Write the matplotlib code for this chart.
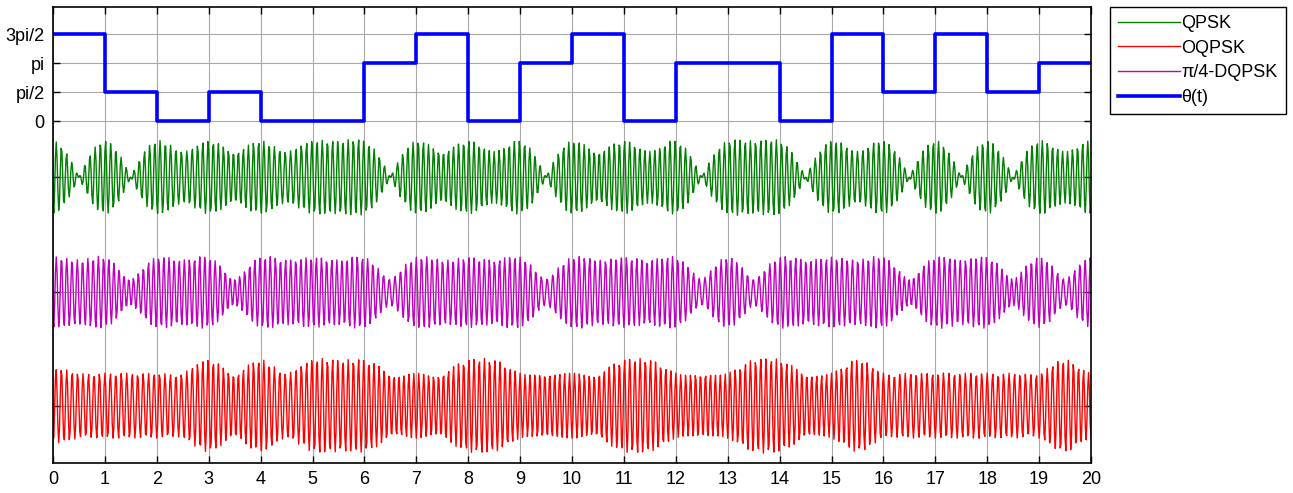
import numpy as np
import matplotlib
matplotlib.use("Agg")
import matplotlib.pyplot as plt

# ---- data ----
# theta(t) per unit interval, in units of pi/2
theta_units = [3, 1, 0, 1, 0, 0, 2, 3, 0, 2, 3, 0, 2, 2, 0, 3, 1, 3, 1, 2]
lead_symbol = [1]          # symbol preceding the sequence (inferred from the QPSK envelope)
ytick_vals = [0, np.pi / 2, np.pi, 3 * np.pi / 2]
ytick_labels = ["0", "pi/2", "pi", "3pi/2"]
xtick_vals = list(range(0, 21))
legend_labels = ["QPSK", "OQPSK", "\u03c0/4-DQPSK", "\u03b8(t)"]
# vertical placement / peak amplitude of the three waveforms (axis units)
offsets = {"QPSK": -3.05, "DQPSK": -9.28, "OQPSK": -15.42}
peaks = {"QPSK": 2.06, "DQPSK": 1.95, "OQPSK": 2.57}
carrier_cycles_per_symbol = 10
samples_per_symbol = 64
rolloff = 1.0

# ---- modulation of the symbol data ----
theta = np.array(theta_units) * np.pi / 2
n = len(theta)
t = np.arange(0, n * samples_per_symbol + 1) / samples_per_symbol


def rc(x, a=rolloff):
    x = np.asarray(x, dtype=float)
    den = 1 - (2 * a * x) ** 2
    out = np.sinc(x) * np.cos(np.pi * a * x)
    safe = np.abs(den) > 1e-8
    res = np.empty_like(x)
    res[safe] = out[safe] / den[safe]
    res[~safe] = np.pi / 4 * np.sinc(1 / (2 * a))
    return res


sym_all = np.concatenate([np.array(lead_symbol) * np.pi / 2, theta])
centers = np.arange(len(sym_all))  # symbol k centred at t = k
a_qpsk = np.exp(1j * (sym_all + np.pi / 4))

# QPSK baseband
bb_q = np.zeros_like(t, dtype=complex)
for c, a in zip(centers, a_qpsk):
    bb_q += a * rc(t - c)

# OQPSK: Q branch delayed by half a symbol
I_o = np.zeros_like(t)
Q_o = np.zeros_like(t)
for c, a in zip(centers, a_qpsk):
    I_o += a.real * rc(t - c)
    Q_o += a.imag * rc(t - c - 0.5)
bb_o = I_o + 1j * Q_o

# pi/4-DQPSK: differential phase
phi = np.cumsum(sym_all + np.pi / 4)
a_d = np.exp(1j * phi)
bb_d = np.zeros_like(t, dtype=complex)
for c, a in zip(centers, a_d):
    bb_d += a * rc(t - c)

carrier = np.exp(1j * 2 * np.pi * carrier_cycles_per_symbol * t)


def passband(bb):
    y = np.real(bb * carrier)
    return y / np.max(np.abs(y))


y_q = passband(bb_q) * peaks["QPSK"] + offsets["QPSK"]
y_o = passband(bb_o) * peaks["OQPSK"] + offsets["OQPSK"]
y_d = passband(bb_d) * peaks["DQPSK"] + offsets["DQPSK"]

# ---- figure ----
plt.rcParams["font.family"] = ["Liberation Sans", "DejaVu Sans"]
fig = plt.figure(figsize=(12.93, 4.93), dpi=100)
ax = fig.add_axes([53 / 1293, 30 / 493, (1091 - 53) / 1293, (463 - 7) / 493])

l_q, = ax.plot(t, y_q, color="#008000", lw=1.0)
l_o, = ax.plot(t, y_o, color="#ff0000", lw=1.0)
l_d, = ax.plot(t, y_d, color="#c000c0", lw=1.0)
tt = np.arange(n + 1)
l_th, = ax.plot(tt, np.append(theta, theta[-1]), drawstyle="steps-post",
                color="#0000ff", lw=2.6)

ax.set_xlim(0, 20)
ax.set_ylim(-18.525, 6.175)
ax.set_xticks(xtick_vals)
ax.set_xticklabels([str(v) for v in xtick_vals])
yt = [offsets["OQPSK"], offsets["DQPSK"], offsets["QPSK"]] + ytick_vals
ax.set_yticks(yt)
ax.set_yticklabels(["", "", ""] + ytick_labels)
ax.grid(True, color="#a8a8a8", lw=0.8, ls="-")
ax.set_axisbelow(True)
ax.tick_params(direction="in", length=5, width=1, top=True, right=True,
               labelsize=13, colors="black", pad=6)
for s in ax.spines.values():
    s.set_linewidth(1.2)

leg = fig.legend([l_q, l_o, l_d, l_th], legend_labels,
                 loc="upper left", bbox_to_anchor=(1110 / 1293, 1 - 7 / 493),
                 frameon=True, fancybox=False, framealpha=1, edgecolor="black",
                 fontsize=13, handlelength=3.4, handletextpad=0.1,
                 labelspacing=0.42, borderpad=0.45, borderaxespad=0)
leg.get_frame().set_linewidth(1.0)

fig.savefig("out.png", dpi=100)
